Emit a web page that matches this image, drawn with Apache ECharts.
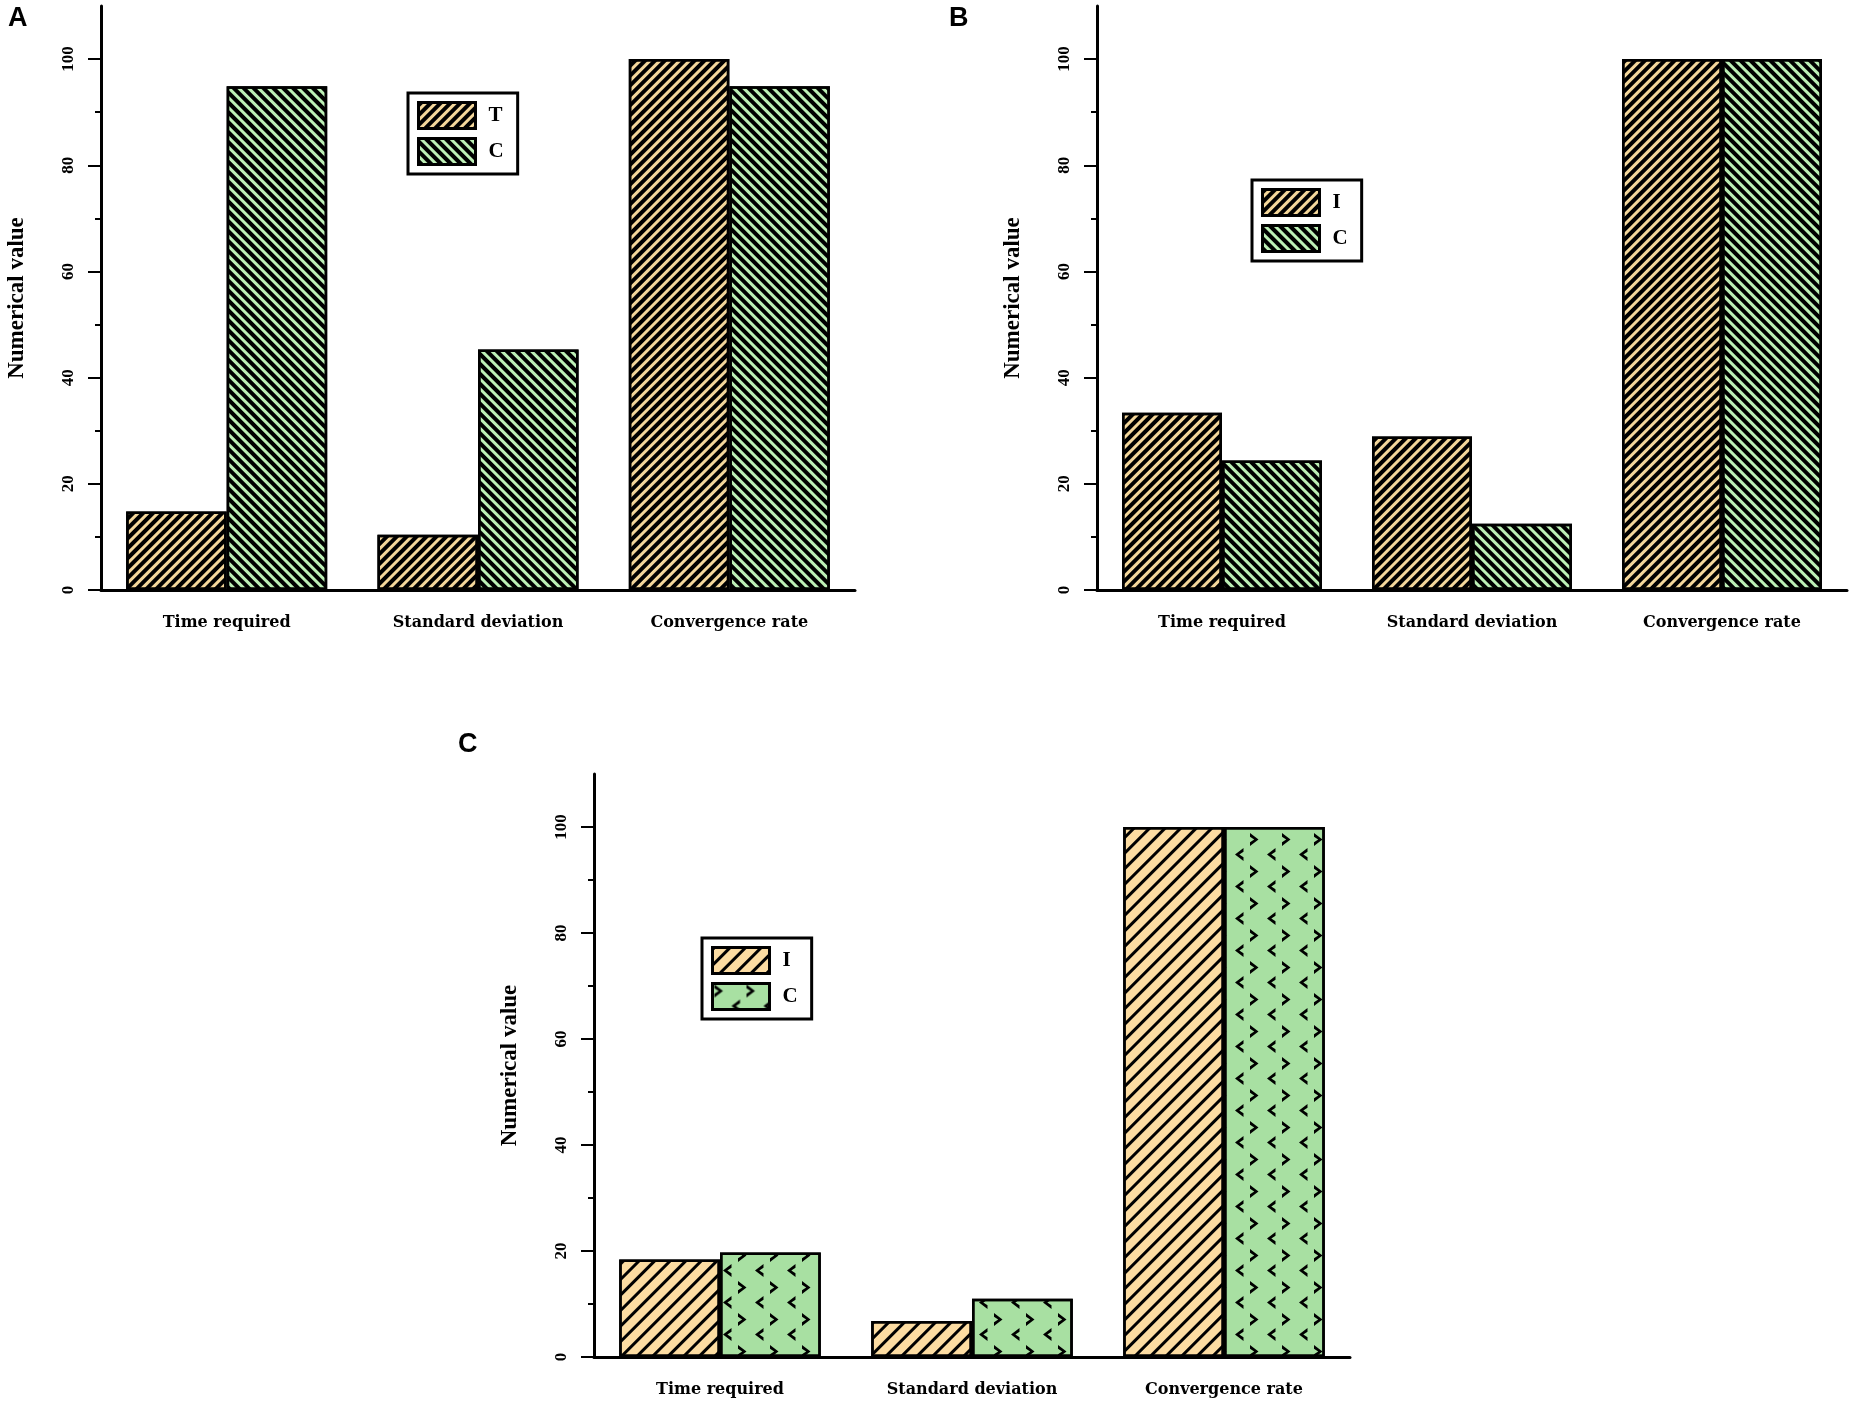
<!DOCTYPE html>
<html>
<head>
<meta charset="utf-8">
<script src="https://cdn.jsdelivr.net/npm/echarts@6/dist/echarts.min.js"></script>
<style>
html,body{margin:0;padding:0;background:#fff;}
#chart{width:1850px;height:1412px;}
</style>
</head>
<body>
<div id="chart"></div>
<script>
// ---- data ----
const categories = ['Time required', 'Standard deviation', 'Convergence rate'];
const panelA_T = [14.8, 10.4, 100];
const panelA_C = [94.9, 45.3, 94.9];
const panelB_T = [33.4, 28.9, 100];
const panelB_C = [24.4, 12.5, 100];
const panelC_T = [18.4, 6.8, 100];
const panelC_C = [19.7, 11.0, 100];
const yTicks = [0, 20, 40, 60, 80, 100];
const yMinorTicks = [10, 30, 50, 70, 90];
const yMax = 110;
const panelLetters = ['A', 'B', 'C'];
const legendNamesA = ['T', 'C'];
const legendNamesB = ['I', 'C'];
const legendNamesC = ['I', 'C'];
const yName = 'Numerical value';

// ---- styles ----
const FONT = 'Liberation Serif';
const XFONT = 'DejaVu Serif';
const tanA = '#f4d79b';
const greenA = '#bdf0b6';
const tanC = '#fcdca2';
const greenC = '#a8e0a2';

const decalTanA = { symbol: 'rect', symbolSize: 1, color: '#000', dashArrayX: [1, 0], dashArrayY: [4, 3], rotation: -Math.PI / 4 };
const decalGreenA = { symbol: 'rect', symbolSize: 1, color: '#000', dashArrayX: [1, 0], dashArrayY: [4, 3], rotation: Math.PI / 4 };
const decalTanC = { symbol: 'rect', symbolSize: 1, color: '#000', dashArrayX: [1, 0], dashArrayY: [3, 8], rotation: -Math.PI / 4 };
// tile 31x31: '>' near top-left, '<' near bottom-right (staggered), tiny corner anchors keep the tile box
const chevronPath = 'path://M0 0 L0.05 0 L0 0.05 Z M31 31 L30.95 31 L31 30.95 Z ' +
  'M2 1 L10.5 7.5 L2 14 L2 10.2 L6.2 7.5 L2 4.8 Z ' +
  'M27.5 16 L19 22.5 L27.5 29 L27.5 25.2 L23.3 22.5 L27.5 19.8 Z';
const decalGreenC = { symbol: chevronPath, symbolSize: 1, color: '#000', dashArrayX: [31, 1], dashArrayY: [31, 1], rotation: 0 };

const grids = [
  { left: 101, right: 995, top: 6, bottom: 822 },
  { left: 1097, right: 3, top: 6, bottom: 822 },
  { left: 594, right: 500, top: 774, bottom: 55 }
];
const legendPos = [
  { left: 408, top: 93, names: legendNamesA },
  { left: 1252, top: 180, names: legendNamesB },
  { left: 702, top: 938, names: legendNamesC }
];
const titlePos = [
  { left: 8, top: 5 },
  { left: 949, top: 5 },
  { left: 458, top: 731 }
];

const xAxes = [], yAxes = [], series = [], legends = [], titles = [];
const panelData = [
  [panelA_T, panelA_C, tanA, greenA, decalTanA, decalGreenA],
  [panelB_T, panelB_C, tanA, greenA, decalTanA, decalGreenA],
  [panelC_T, panelC_C, tanC, greenC, decalTanC, decalGreenC]
];

panelData.forEach((pd, i) => {
  xAxes.push({
    type: 'category', gridIndex: i, data: categories, position: 'bottom',
    axisLine: { lineStyle: { color: '#000', width: 3 } },
    axisTick: { alignWithLabel: true, length: 10, lineStyle: { color: '#000', width: 2 } },
    axisLabel: { color: '#000', fontFamily: XFONT, fontWeight: 'bold', fontSize: 16, margin: 25 }
  });
  xAxes.push({
    type: 'category', gridIndex: i, data: categories, position: 'bottom',
    axisLine: { show: false },
    axisTick: { length: 10, lineStyle: { color: '#000', width: 2 } },
    axisLabel: { show: false }
  });
  yAxes.push({
    type: 'value', gridIndex: i, min: 0, max: yMax, interval: 20,
    name: yName, nameLocation: 'middle', nameRotate: 90, nameGap: 72,
    nameTextStyle: { color: '#000', fontFamily: FONT, fontWeight: 'bold', fontSize: 23 },
    splitLine: { show: false },
    axisLine: { show: true, lineStyle: { color: '#000', width: 3 } },
    axisTick: { show: true, length: 13, customValues: yTicks, lineStyle: { color: '#000', width: 2 } },
    axisLabel: { customValues: yTicks, rotate: 90, margin: 24, color: '#000', fontFamily: FONT, fontWeight: 'bold', fontSize: 17 }
  });
  yAxes.push({
    type: 'value', gridIndex: i, min: 0, max: yMax, interval: 20, position: 'left',
    splitLine: { show: false },
    axisLine: { show: false },
    axisTick: { show: true, length: 6, customValues: yMinorTicks, lineStyle: { color: '#000', width: 2 } },
    axisLabel: { show: false }
  });
  const names = legendPos[i].names;
  const sNames = [names[0] + '|' + i, names[1] + '|' + i];
  series.push({
    type: 'bar', name: sNames[0], xAxisIndex: 2 * i, yAxisIndex: 2 * i, data: pd[0],
    barGap: '0%', barCategoryGap: '20%',
    itemStyle: { color: pd[2], borderColor: '#000', borderWidth: 2.5, decal: pd[4] }
  });
  series.push({
    type: 'bar', name: sNames[1], xAxisIndex: 2 * i, yAxisIndex: 2 * i, data: pd[1],
    barGap: '0%', barCategoryGap: '20%',
    itemStyle: { color: pd[3], borderColor: '#000', borderWidth: 2.5, decal: pd[5] }
  });
  legends.push({
    data: sNames, orient: 'vertical', left: legendPos[i].left, top: legendPos[i].top,
    icon: 'rect', itemWidth: 57, itemHeight: 26, itemGap: 7,
    padding: [8, 14, 8, 9],
    backgroundColor: '#fff', borderColor: '#000', borderWidth: 3,
    itemStyle: { borderColor: '#000', borderWidth: 3 },
    formatter: n => n.split('|')[0],
    textStyle: { color: '#000', fontFamily: FONT, fontWeight: 'bold', fontSize: 21, padding: [0, 0, 0, 8] },
    selectedMode: false
  });
  titles.push({
    text: panelLetters[i], left: titlePos[i].left, top: titlePos[i].top, padding: 0,
    textStyle: { color: '#000', fontFamily: 'Liberation Sans', fontWeight: 'bold', fontSize: 27 }
  });
});

const chart = echarts.init(document.getElementById('chart'), null, { renderer: 'canvas' });
chart.setOption({
  animation: false,
  backgroundColor: '#fff',
  title: titles,
  legend: legends,
  grid: grids,
  xAxis: xAxes,
  yAxis: yAxes,
  series: series
});
</script>
</body>
</html>
